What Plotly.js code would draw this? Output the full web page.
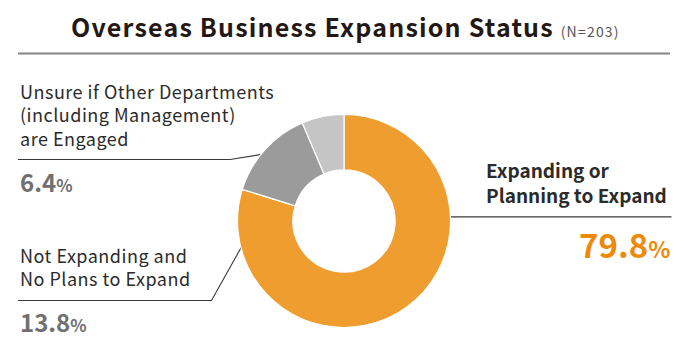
<!DOCTYPE html>
<html>
<head>
<meta charset="utf-8">
<script src="https://cdn.plot.ly/plotly-3.0.1.min.js"></script>
<style>
html,body{margin:0;padding:0;background:#fff;}
#chart{width:700px;height:354px;}
#chart .annotation[data-index="0"] .annotation-text{letter-spacing:1.2px;}
#chart .annotation[data-index="1"] .annotation-text,
#chart .annotation[data-index="3"] .annotation-text{letter-spacing:0.5px;}
</style>
</head>
<body>
<div id="chart"></div>
<script>
// ---- data ----
const categories = [
  "Expanding or<br>Planning to Expand",
  "Not Expanding and<br>No Plans to Expand",
  "Unsure if Other Departments<br>(including Management)<br>are Engaged"
];
const shares = [79.8, 13.8, 6.4];
const sampleSize = 203;
const chartTitle = "Overseas Business Expansion Status";

// ---- layout constants ----
const W = 700, H = 354;
const cx = 344, cy = 221, R = 106.5, holeFrac = 0.48;
const colors = ["#EE9D2E", "#9B9B9B", "#C5C5C5"];
const FONT = "Noto Sans CJK JP";
const TXT = "#2b2b2b";

const total = shares.reduce((a, b) => a + b, 0);
let cum = 0;
const midAngles = shares.map(v => { const a = (cum + v / 2) / total * 360; cum += v; return a; });
const dotAngles = [87, midAngles[1], midAngles[2]];
const rMid = R * (1 + holeFrac) / 2;
const dots = dotAngles.map(a => {
  const t = a * Math.PI / 180;
  return [cx + rMid * Math.sin(t), cy - rMid * Math.cos(t)];
});

const leaders = [
  [dots[0], [671.5, dots[0][1]]],
  [dots[1], [211.5, 300.5], [18, 300.5]],
  [dots[2], [230, 159.5], [18, 159.5]]
];

const traces = [{
  type: "pie",
  values: shares,
  labels: categories,
  sort: false,
  direction: "clockwise",
  rotation: 0,
  hole: holeFrac,
  marker: {colors: colors, line: {color: "#ffffff", width: 1.2}},
  textinfo: "none",
  hoverinfo: "label+percent",
  showlegend: false,
  domain: {x: [(cx - R) / W, (cx + R) / W], y: [(H - cy - R) / H, (H - cy + R) / H]}
}];
leaders.forEach(pts => {
  traces.push({
    type: "scatter", mode: "lines",
    x: pts.map(p => p[0]), y: pts.map(p => p[1]),
    line: {color: "#3a3a3a", width: 1.1},
    hoverinfo: "skip", showlegend: false
  });
});
traces.push({
  type: "scatter", mode: "markers",
  x: dots.map(d => d[0]), y: dots.map(d => d[1]),
  marker: {color: "#1e1a1a", size: 7},
  hoverinfo: "skip", showlegend: false
});

const pct = (v, small) => v.toFixed(1) + '<span style="font-size:' + small + 'px">%</span>';

const annotations = [
  {x: 70, y: 7, xanchor: "left", yanchor: "top", align: "left",
   text: chartTitle + ' <span style="font-size:14px;color:#555;font-weight:normal">(N=' + sampleSize + ')</span>',
   font: {family: FONT, size: 25, color: "#231815", weight: "bold"}},
  {x: 19, y: 77, xanchor: "left", yanchor: "top", align: "left",
   text: categories[2], font: {family: FONT, size: 18, color: TXT}},
  {x: 19, y: 163, xanchor: "left", yanchor: "top", align: "left",
   text: pct(shares[2], 17), font: {family: FONT, size: 24, color: "#707070", weight: "bold"}},
  {x: 19, y: 241, xanchor: "left", yanchor: "top", align: "left",
   text: categories[1], font: {family: FONT, size: 18, color: TXT}},
  {x: 19, y: 303, xanchor: "left", yanchor: "top", align: "left",
   text: pct(shares[1], 17), font: {family: FONT, size: 24, color: "#707070", weight: "bold"}},
  {x: 485, y: 155, xanchor: "left", yanchor: "top", align: "left",
   text: categories[0], font: {family: FONT, size: 19, color: TXT, weight: "bold"}},
  {x: 671, y: 219, xanchor: "right", yanchor: "top", align: "right",
   text: pct(shares[0], 23), font: {family: FONT, size: 33, color: "#EE8A0A", weight: "bold"}}
].map(a => Object.assign({xref: "x", yref: "y", showarrow: false, borderpad: 0}, a));

const layout = {
  width: W, height: H,
  margin: {l: 0, r: 0, t: 0, b: 0},
  paper_bgcolor: "#ffffff", plot_bgcolor: "rgba(0,0,0,0)",
  xaxis: {range: [0, W], visible: false, fixedrange: true},
  yaxis: {range: [H, 0], visible: false, fixedrange: true},
  showlegend: false,
  annotations: annotations,
  shapes: [{type: "line", xref: "x", yref: "y", x0: 18, x1: 670, y0: 53.5, y1: 53.5,
            line: {color: "#858585", width: 2}}]
};

Plotly.newPlot("chart", traces, layout, {staticPlot: true, displayModeBar: false});
</script>
</body>
</html>
